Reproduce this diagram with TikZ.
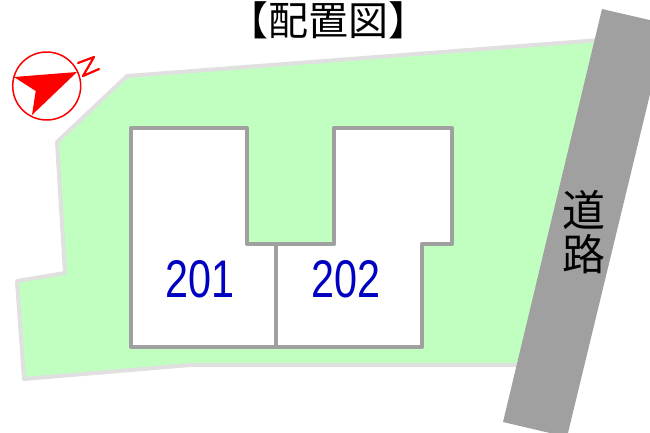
\documentclass[tikz,border=0pt]{standalone}
\usepackage{fontspec}
\newfontfamily\cjk{Noto Sans CJK JP}
\newfontfamily\numfont[FakeStretch=0.78]{Liberation Sans}
\definecolor{lawn}{HTML}{C0FFC0}
\definecolor{lotedge}{HTML}{E0E0E0}
\definecolor{wall}{HTML}{A0A0A0}
\definecolor{numblue}{HTML}{0000C0}
\tikzset{
 lot/.style={fill=lawn,draw=lotedge,line width=4pt,line join=round},
 bldg/.style={fill=white,draw=wall,line width=4pt,line join=round,line cap=round},
 roadband/.style={fill=wall,draw=none},
 titletext/.style={font=\cjk\fontsize{40}{40}\selectfont,inner sep=0pt,text=black},
 roadtext/.style={font=\cjk\fontsize{43}{44}\selectfont,inner sep=0pt,text=black,align=center},
 unitnum/.style={font=\numfont\fontsize{53}{53}\selectfont,inner sep=0pt,text=numblue},
 compass/.style={draw=red,line width=1.5pt},
}
\begin{document}
\begin{tikzpicture}[x=1pt,y=-1pt]
\clip (0,0) rectangle (650,432);
\fill[white] (0,0) rectangle (650,432);
\draw[lot] (127,76) -- (600,40) -- (530,365) -- (190,365) -- (24,379) -- (17,281) -- (65,273) -- (57,142) -- cycle;
\fill[roadband] (602,9) -- (667,24) -- (567,437) -- (503,422) -- cycle;
\draw[bldg] (131,128) -- (247,128) -- (247,244) -- (334,244) -- (334,128) -- (452,128) -- (452,244) -- (422,244) -- (422,347) -- (131,347) -- cycle;
\coordinate (divtop) at (276,244);
\coordinate (divbot) at (276,347);
\draw[bldg] (divtop) -- (divbot);
\node[unitnum] (u201) at (200,279) {201};
\node[unitnum] (u202) at (346,279) {202};
\node[titletext] (title) at (328,20) {【配置図】};
\node[roadtext] (road) at (584,232) {道\\路};
\draw[compass] (46.7,86) circle (34);
\fill[red] (77,72) -- (14,77) -- (35.7,91) -- (32,115) -- cycle;
\draw[red,line width=2.2pt,line join=round,line cap=round] (78,63) -- (94,57) -- (83,76) -- (99,69);
\end{tikzpicture}
\end{document}
